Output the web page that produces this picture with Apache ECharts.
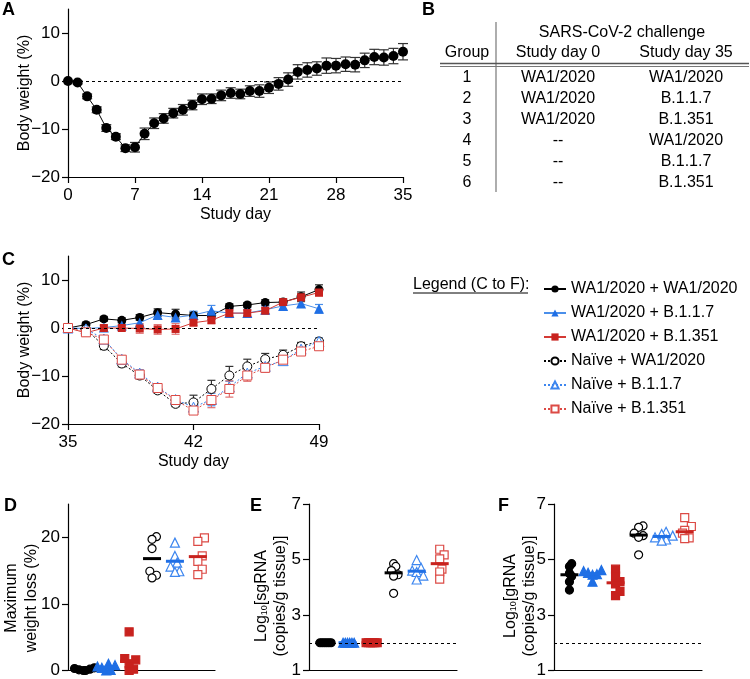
<!DOCTYPE html>
<html><head><meta charset="utf-8">
<script src="https://cdn.jsdelivr.net/npm/echarts@6/dist/echarts.min.js"></script>
<style>html,body{margin:0;padding:0;background:#fff}#c{width:750px;height:679px}</style>
</head><body><div id="c"></div>
<script>
// ---------- Panel A ----------
const daysA = [0,1,2,3,4,5,6,7,8,9,10,11,12,13,14,15,16,17,18,19,20,21,22,23,24,25,26,27,28,29,30,31,32,33,34,35];
const weightA = [0,-0.3,-3.2,-6.0,-9.8,-11.6,-14.0,-13.8,-11.0,-8.8,-7.8,-6.7,-6.0,-5.0,-3.8,-3.7,-3.0,-2.5,-2.7,-2.1,-2.1,-1.4,-0.6,0.3,1.9,2.3,2.6,3.2,3.2,3.5,3.4,4.3,5.0,4.9,5.2,6.1];
const errA = [0,0.3,0.5,0.6,0.7,0.6,0.7,1.0,1.2,1.1,1.0,1.0,1.1,1.0,1.1,1.0,1.1,1.1,1.0,1.1,1.3,1.2,1.3,1.4,1.5,1.5,1.4,1.6,1.5,1.5,1.5,1.5,1.6,1.6,1.6,1.7];
const ticksAx = [0,7,14,21,28,35];
const ticksBW = [-20,-10,0,10];

// ---------- Panel B (table) ----------
const tableGroups = ['1','2','3','4','5','6'];
const tableDay0 = ['WA1/2020','WA1/2020','WA1/2020','--','--','--'];
const tableDay35 = ['WA1/2020','B.1.1.7','B.1.351','WA1/2020','B.1.1.7','B.1.351'];

// ---------- Panel C ----------
const daysC = [35,36,37,38,39,40,41,42,43,44,45,46,47,48,49];
const ticksCx = [35,42,49];
const seriesNames = ['WA1/2020 + WA1/2020','WA1/2020 + B.1.1.7','WA1/2020 + B.1.351','Naïve + WA1/2020','Naïve + B.1.1.7','Naïve + B.1.351'];
const cWA1_WA1   = [0,0.7,1.9,1.6,2.2,3.2,2.9,2.6,2.6,4.5,4.8,5.3,5.4,6.5,8.0];
const cWA1_B117  = [0,-0.1,0.1,0.5,1.1,2.7,2.2,2.7,3.6,3.1,3.1,3.8,4.6,5.1,4.0];
const cWA1_B1351 = [0,-1.0,0,0,-0.1,-0.3,-0.2,1.1,1.6,3.1,3.1,3.6,5.4,6.4,7.4];
const cN_WA1     = [0,-0.3,-3.7,-7.4,-9.9,-13.0,-15.8,-15.5,-12.7,-9.9,-8.0,-6.5,-5.6,-3.8,-2.8];
const cN_B117    = [0,-0.2,-2.3,-6.5,-9.4,-12.3,-14.9,-16.5,-14.9,-12.3,-9.4,-8.0,-6.8,-4.4,-2.8];
const cN_B1351   = [0,-0.9,-2.4,-6.6,-9.7,-12.5,-15.0,-17.2,-15.0,-12.7,-9.9,-8.3,-6.6,-4.9,-3.8];
const eWA1_WA1   = [0,0.5,0.5,0.5,0.6,0.8,1.0,0.7,0.8,0.5,0.5,0.6,0.6,1.0,1.0];
const eWA1_B117  = [0,0.4,0.5,0.6,0.8,0.8,0.8,0.8,1.1,0.9,0.8,0.8,0.7,0.7,0.9];
const eWA1_B1351 = [0,0.6,0.5,0.5,1.0,1.0,1.1,0.6,0.6,0.6,0.6,0.6,0.6,0.7,0.8];
const eN_WA1     = [0,0.5,0.8,0.7,0.7,0.6,0.6,1.5,1.8,1.9,1.5,1.2,1.0,0.8,0.7];
const eN_B117    = [0,0.5,0.7,0.7,0.7,0.7,0.7,1.2,1.3,1.2,1.0,0.9,0.8,0.8,0.7];
const eN_B1351   = [0,0.5,0.8,0.8,0.8,0.8,0.8,0.8,1.6,1.7,1.2,0.9,0.8,0.7,0.7];

// ---------- Panels D, E, F (one array per group, groups 1..6) ----------
const groupPos = [1,2,3,4,5,6];
const dG1 = [0,0,0.1,0.2,0.3,0.4];
const dG2 = [0,0.1,0.4,0.6,0.8,1.0];
const dG3 = [0,0.2,1.0,1.6,1.8,5.8];
const dG4 = [20.1,19.7,18.3,14.9,14.3,13.9];
const dG5 = [19.2,17.2,16.2,15.6,14.9,14.8];
const dG6 = [19.9,19.4,17.2,16.4,15.2,14.4];
const dMedian = [0.15,0.5,1.4,16.8,16.4,17.1];
const ticksD = [0,10,20];

const eG1 = [2,2,2,2,2,2];
const eG2 = [2,2,2,2,2,2];
const eG3 = [2,2,2,2,2,2];
const eG4 = [4.85,4.75,4.6,4.45,4.4,3.78];
const eG5 = [4.98,4.7,4.6,4.55,4.42,4.28];
const eG6 = [5.37,5.17,5.02,4.65,4.55,4.29];
const eMedian = [2,2,2,4.52,4.58,4.85];

const fG1 = [4.85,4.75,4.5,4.4,4.2,3.9];
const fG2 = [4.62,4.58,4.52,4.47,4.45,4.2];
const fG3 = [4.65,4.4,4.2,4.12,3.85,3.7];
const fG4 = [6.21,6.16,5.95,5.86,5.8,5.17];
const fG5 = [6.0,5.92,5.86,5.8,5.72,5.68];
const fG6 = [6.51,6.19,6.05,5.95,5.78,5.75];
const fMedian = [4.45,4.49,4.16,5.88,5.83,6.0];
const ticksLog = [1,3,5,7];
const lodLine = 2;

// ---------- styling ----------
const FONT = '"Liberation Sans", Arial, sans-serif';
const BLACK = '#000000', BLUE = '#1f6fe5', RED = '#c8221e';
const BLUE_L = '#3d86ef', RED_L = '#dc4a45';
const groupStyle = [
  {symbol:'circle', fill:BLACK, stroke:BLACK, size:8, line:BLACK},
  {symbol:'triangle', fill:BLUE, stroke:BLUE, size:9, line:BLUE},
  {symbol:'rect', fill:RED, stroke:RED, size:8, line:RED},
  {symbol:'circle', fill:'#fff', stroke:BLACK, size:8, line:BLACK},
  {symbol:'triangle', fill:'#fff', stroke:BLUE_L, size:9, line:BLUE},
  {symbol:'rect', fill:'#fff', stroke:RED_L, size:8, line:RED}
];

const chart = echarts.init(document.getElementById('c'));

function yAx(gi, min, max, ticks) {
  return {type:'value', gridIndex:gi, min:min, max:max,
    axisLine:{show:true, lineStyle:{color:'#000', width:1.2}},
    axisTick:{show:true, length:6, customValues:ticks, lineStyle:{color:'#000', width:1.2}},
    axisLabel:{customValues:ticks, margin:8, color:'#000', fontSize:17, fontFamily:FONT,
      formatter:function(v){return String(v).replace('-', '\u2212');}},
    splitLine:{show:false}};
}
function xAx(gi, min, max, ticks, name) {
  const o = {type:'value', gridIndex:gi, min:min, max:max,
    axisLine:{show:true, onZero:false, lineStyle:{color:'#000', width:1.2}},
    splitLine:{show:false}};
  if (ticks) {
    o.axisTick = {show:true, length:6, customValues:ticks, lineStyle:{color:'#000', width:1.2}};
    o.axisLabel = {customValues:ticks, margin:10, color:'#000', fontSize:17, fontFamily:FONT};
    o.name = name; o.nameLocation = 'middle'; o.nameGap = 30;
    o.nameTextStyle = {color:'#000', fontSize:16, fontFamily:FONT};
  } else {
    o.axisTick = {show:false}; o.axisLabel = {show:false};
  }
  return o;
}

function errRender(color, cap) {
  return function(params, api) {
    const x = api.value(0), y = api.value(1), e = api.value(2);
    if (!e) return null;
    const lo = api.coord([x, y - e]), hi = api.coord([x, y + e]);
    const st = {stroke:color, lineWidth:1.2, fill:null};
    return {type:'group', children:[
      {type:'line', shape:{x1:lo[0], y1:lo[1], x2:hi[0], y2:hi[1]}, style:st},
      {type:'line', shape:{x1:hi[0]-cap, y1:hi[1], x2:hi[0]+cap, y2:hi[1]}, style:st},
      {type:'line', shape:{x1:lo[0]-cap, y1:lo[1], x2:lo[0]+cap, y2:lo[1]}, style:st}
    ]};
  };
}

const dashedZero = (v) => ({silent:true, symbol:'none', label:{show:false},
  lineStyle:{type:[3,3], color:'#000', width:1}, data:[{yAxis:v}]});

const series = [];
// Panel A
series.push({type:'custom', xAxisIndex:0, yAxisIndex:0, z:2,
  renderItem:errRender('#333', 5), data:daysA.map((d,i)=>[d, weightA[i], errA[i]])});
series.push({type:'line', xAxisIndex:0, yAxisIndex:0, z:3, symbol:'circle', symbolSize:10,
  itemStyle:{color:'#000'}, lineStyle:{color:'#000', width:1}, animation:false,
  data:daysA.map((d,i)=>[d, weightA[i]]), markLine:dashedZero(0)});

// Panel C
const cVals = [cWA1_WA1, cWA1_B117, cWA1_B1351, cN_WA1, cN_B117, cN_B1351];
const cErrs = [eWA1_WA1, eWA1_B117, eWA1_B1351, eN_WA1, eN_B117, eN_B1351];
const cSym = [
  {symbol:'circle', size:9, item:{color:BLACK}, line:{color:BLACK, width:1}, err:'#333'},
  {symbol:'triangle', size:10, item:{color:BLUE}, line:{color:'#4a8fea', width:1}, err:'#4a8fea'},
  {symbol:'rect', size:8, item:{color:RED}, line:{color:'#d43a35', width:1}, err:'#e07070'},
  {symbol:'circle', size:9, item:{color:'#fff', borderColor:BLACK, borderWidth:1}, line:{color:BLACK, width:1, type:[2,2]}, err:'#333'},
  {symbol:'triangle', size:10, item:{color:'#fff', borderColor:BLUE_L, borderWidth:1}, line:{color:BLUE_L, width:1, type:[2,2]}, err:'#4a8fea'},
  {symbol:'rect', size:9, item:{color:'#fff', borderColor:RED_L, borderWidth:1}, line:{color:RED_L, width:1, type:[2,2]}, err:'#e07070'}
];
cVals.forEach((vals, k) => {
  series.push({type:'custom', xAxisIndex:1, yAxisIndex:1, z:2,
    renderItem:errRender(cSym[k].err, 4), data:daysC.map((d,i)=>[d, vals[i], cErrs[k][i]])});
});
cVals.forEach((vals, k) => {
  const s = {type:'line', name:seriesNames[k], xAxisIndex:1, yAxisIndex:1, z:3,
    symbol:cSym[k].symbol, symbolSize:cSym[k].size, itemStyle:cSym[k].item, lineStyle:cSym[k].line,
    data:daysC.map((d,i)=>[d, vals[i]])};
  if (k === 0) s.markLine = dashedZero(0);
  series.push(s);
});

// Panels D, E, F
const xMin = 0.33, xMax = 6.75;
function swarm(vals, center, pxPerY, pxPerX) {
  const order = vals.map((v,i)=>i).sort((a,b)=>vals[a]-vals[b]);
  const placed = [], out = new Array(vals.length);
  const step = 2.2;
  for (const i of order) {
    const yp = vals[i] * pxPerY;
    for (let k = 0; k < 80; k++) {
      const off = (k % 2 === 1 ? 1 : -1) * Math.ceil(k/2) * step;
      let ok = true;
      for (const p of placed) {
        const dy = Math.abs(yp - p.y);
        const need = dy < 0.05 ? 2.2 : (dy < 3 ? 3.5 : 6);
        if (Math.hypot(off - p.x, yp - p.y) < need) { ok = false; break; }
      }
      if (ok) { placed.push({x:off, y:yp}); out[i] = [center + off / pxPerX, vals[i]]; break; }
    }
  }
  return out;
}
function dotPanel(axisIdx, groups, medians, pxPerY, lod) {
  const pxPerX = 147 / (xMax - xMin);
  groups.forEach((vals, g) => {
    const st = groupStyle[g];
    const s = {type:'scatter', xAxisIndex:axisIdx, yAxisIndex:axisIdx, z:3,
      symbol:st.symbol, symbolSize:st.size,
      itemStyle:{color:st.fill, borderColor:st.stroke, borderWidth:1.2, opacity:1},
      data:swarm(vals, groupPos[g], pxPerY, pxPerX)};
    if (g === 0 && lod !== null) s.markLine = dashedZero(lod);
    series.push(s);
  });
  series.push({type:'custom', xAxisIndex:axisIdx, yAxisIndex:axisIdx, z:4,
    renderItem:function(params, api){
      const g = params.dataIndex;
      const p = api.coord([api.value(0), api.value(1)]);
      return {type:'line', shape:{x1:p[0]-9, y1:p[1], x2:p[0]+9, y2:p[1]},
        style:{stroke:groupStyle[g].line, lineWidth:3}};
    },
    data:groupPos.map((x,i)=>[x, medians[i]])});
}
dotPanel(2, [dG1,dG2,dG3,dG4,dG5,dG6], dMedian, 168/25, null);
dotPanel(3, [eG1,eG2,eG3,eG4,eG5,eG6], eMedian, 168/6, lodLine);
dotPanel(4, [fG1,fG2,fG3,fG4,fG5,fG6], fMedian, 168/6, lodLine);

// ---------- graphics: labels, table, titles ----------
const graphic = [];
function txt(x, y, s, opts) {
  graphic.push(Object.assign({type:'text', x:x, y:y, silent:true,
    style:Object.assign({text:s, fill:'#000', font:'16px ' + FONT, textAlign:'center', textVerticalAlign:'middle'}, (opts && opts.style) || {})},
    opts && opts.rotation ? {rotation:opts.rotation} : {}));
}
function panelLetter(x, y, s) { txt(x, y, s, {style:{font:'bold 18px ' + FONT, textAlign:'left'}}); }
panelLetter(2, 10, 'A'); panelLetter(422, 10, 'B'); panelLetter(2, 260, 'C');
panelLetter(4, 506, 'D'); panelLetter(250, 506, 'E'); panelLetter(498, 506, 'F');

// table
txt(622, 33, 'SARS-CoV-2 challenge');
txt(467, 53, 'Group'); txt(558, 53, 'Study day 0'); txt(686, 53, 'Study day 35');
tableGroups.forEach((g, i) => {
  const y = 78 + i * 21;
  txt(467, y, g); txt(558, y, tableDay0[i]); txt(686, y, tableDay35[i]);
});
graphic.push({type:'line', silent:true, shape:{x1:496, y1:22, x2:496, y2:192}, style:{stroke:'#777', lineWidth:1.2}});
graphic.push({type:'line', silent:true, shape:{x1:440, y1:63.5, x2:749, y2:63.5}, style:{stroke:'#555', lineWidth:1.4}});
graphic.push({type:'line', silent:true, shape:{x1:440, y1:66.5, x2:749, y2:66.5}, style:{stroke:'#777', lineWidth:1}});

// legend header
txt(413, 285, 'Legend (C to F):', {style:{textAlign:'left'}});
graphic.push({type:'line', silent:true, shape:{x1:413, y1:293, x2:528, y2:293}, style:{stroke:'#000', lineWidth:1}});

// y axis titles
const R = Math.PI / 2;
txt(25, 93, 'Body weight (%)', {rotation:R});
txt(25, 340, 'Body weight (%)', {rotation:R});
txt(22, 598, 'Maximum\nweight loss (%)', {rotation:R, style:{lineHeight:20}});
function logTitle(x, y, what) {
  graphic.push({type:'text', x:x, y:y, rotation:R, silent:true,
    style:{text:'{n|Log}{s|10}{n|[' + what + '}\n{n|(copies/g tissue)]}', textAlign:'center', textVerticalAlign:'middle', fill:'#000',
      rich:{n:{fontSize:16, fontFamily:FONT, lineHeight:19, fill:'#000'},
            s:{fontSize:9, fontFamily:FONT, lineHeight:19, padding:[7,0,0,0], fill:'#000'}}}});
}
logTitle(271, 596, 'sgRNA');
logTitle(520, 596, 'gRNA');

chart.setOption({
  animation:false,
  textStyle:{fontFamily:FONT},
  grid:[
    {left:68, top:9, width:335, height:168},
    {left:68, top:256, width:251, height:168},
    {left:68, top:504, width:147, height:168},
    {left:309, top:504, width:148, height:168},
    {left:554, top:504, width:148, height:168}
  ],
  xAxis:[
    xAx(0, 0, 35, ticksAx, 'Study day'),
    xAx(1, 35, 49, ticksCx, 'Study day'),
    xAx(2, xMin, xMax, null), xAx(3, xMin, xMax, null), xAx(4, xMin, xMax, null)
  ],
  yAxis:[
    yAx(0, -20, 15, ticksBW), yAx(1, -20, 15, ticksBW),
    yAx(2, 0, 25, ticksD), yAx(3, 1, 7, ticksLog), yAx(4, 1, 7, ticksLog)
  ],
  legend:{data:seriesNames, orient:'vertical', left:538, top:276, itemWidth:22, itemHeight:9, itemGap:8,
    selectedMode:false, textStyle:{fontSize:16, fontFamily:FONT, color:'#000', padding:[0,0,0,0]}},
  graphic:graphic,
  series:series
});
</script></body></html>
